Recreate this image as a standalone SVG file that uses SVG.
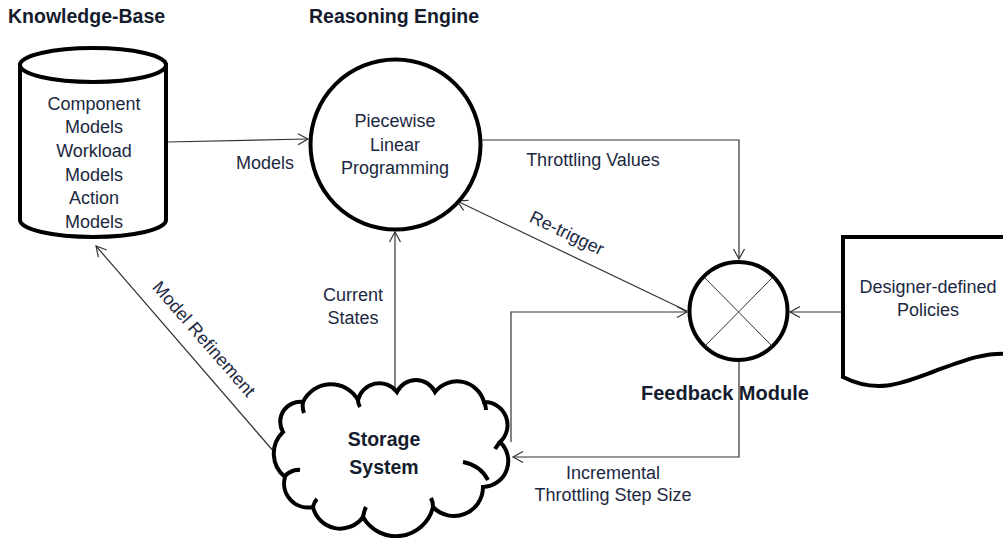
<svg xmlns="http://www.w3.org/2000/svg" width="1003" height="538" viewBox="0 0 1003 538">
<style>
text{font-family:"Liberation Sans",Arial,sans-serif;fill:#1c2841;font-size:18px}
.t{font-weight:bold;font-size:19.5px;fill:#141c2e}
.c{text-anchor:middle}
.shape{fill:#fff;stroke:#000;stroke-width:4}
.conn{fill:none;stroke:#333;stroke-width:1.2}
.thin{fill:none;stroke:#333;stroke-width:1}
</style>
<defs>
<marker id="arr" viewBox="-11 -7 13 14" refX="0" refY="0" markerWidth="13" markerHeight="14" markerUnits="userSpaceOnUse" orient="auto">
<path d="M-10,-5.5 L0,0 L-10,5.5" fill="none" stroke="#333" stroke-width="1.2"/>
</marker>
</defs>
<rect width="1003" height="538" fill="#fff"/>

<g id="connectors">
<path class="conn" d="M167,142 L308,139" marker-end="url(#arr)"/>
<path class="conn" d="M481,140 H739 V259" marker-end="url(#arr)"/>
<path class="conn" d="M687,311 L457,201" marker-end="url(#arr)"/>
<path class="conn" d="M843,312 L790,312" marker-end="url(#arr)"/>
<path class="conn" d="M511,442 V312 H687" marker-end="url(#arr)"/>
<path class="conn" d="M739,361 V457 H513" marker-end="url(#arr)"/>
<path class="conn" d="M395,392 V232" marker-end="url(#arr)"/>
<path class="conn" d="M275,453 L96,246" marker-end="url(#arr)"/>
<text class="c" x="265" y="169">Models</text>
<text class="c" x="593" y="166">Throttling Values</text>
<text class="c" transform="translate(567,233) rotate(25.5)" y="6">Re-trigger</text>
<text class="c" x="353" y="301">Current</text>
<text class="c" x="353" y="324">States</text>
<text class="c" x="613" y="479">Incremental</text>
<text class="c" x="613" y="501">Throttling Step Size</text>
<text class="c" transform="translate(204,339) rotate(49)" y="6">Model Refinement</text>
</g>

<g id="knowledge-base">
<text class="t" x="8" y="23">Knowledge-Base</text>
<path class="shape" d="M20,65 L20,220 A73,17 0 0 0 166,220 L166,65 Z"/>
<ellipse class="shape" cx="93" cy="65" rx="73" ry="17"/>
<text class="c" x="94" y="110">Component</text>
<text class="c" x="94" y="133">Models</text>
<text class="c" x="94" y="157">Workload</text>
<text class="c" x="94" y="181">Models</text>
<text class="c" x="94" y="204">Action</text>
<text class="c" x="94" y="228">Models</text>
</g>

<g id="reasoning-engine">
<text class="t" x="309" y="23">Reasoning Engine</text>
<circle class="shape" cx="395.5" cy="144.5" r="85"/>
<text class="c" x="395" y="127">Piecewise</text>
<text class="c" x="395" y="151">Linear</text>
<text class="c" x="395" y="174">Programming</text>
</g>

<g id="feedback-module">
<circle class="shape" cx="738.5" cy="311" r="49"/>
<path class="thin" d="M705,278 L772,346 M772,278 L705,346"/>
<text class="t" x="641" y="400" style="font-size:20px">Feedback Module</text>
</g>

<g id="designer-policies">
<path class="shape" d="M1010,237 L843,237 L843,377 C878,395 905,382 935,371 C965,360 985,352 1010,354"/>
<text class="c" x="928" y="293">Designer-defined</text>
<text class="c" x="928" y="316">Policies</text>
</g>

<g id="storage-system">
<path class="shape" d="M285,477 A30,30 0 0 1 283,432 A20,20 0 0 1 303,402 A31,31 0 0 1 358,400 A22,22 0 0 1 397,392 A21,21 0 0 1 435,392 A28,28 0 0 1 484,402 A23,23 0 0 1 500,442 A26,26 0 0 1 483,487 A29,29 0 0 1 433,507 A38,38 0 0 1 363,517 A28,28 0 0 1 313,507 A24,24 0 0 1 285,477 Z"/>
<path fill="none" stroke="#000" stroke-width="4" d="M285,476 Q292,469 300,470 M303,402 Q302,408 304,413 M358,400 Q358,404 360,407 M484,402 Q486,406 486,410 M500,442 Q497,446 495,449 M463,462 Q480,465 488,480 M433,507 Q433,502 431,498 M363,517 Q364,511 366,507 M313,507 Q314,502 317,499"/>
<text class="t c" x="384" y="446">Storage</text>
<text class="t c" x="384" y="474">System</text>
</g>
</svg>
